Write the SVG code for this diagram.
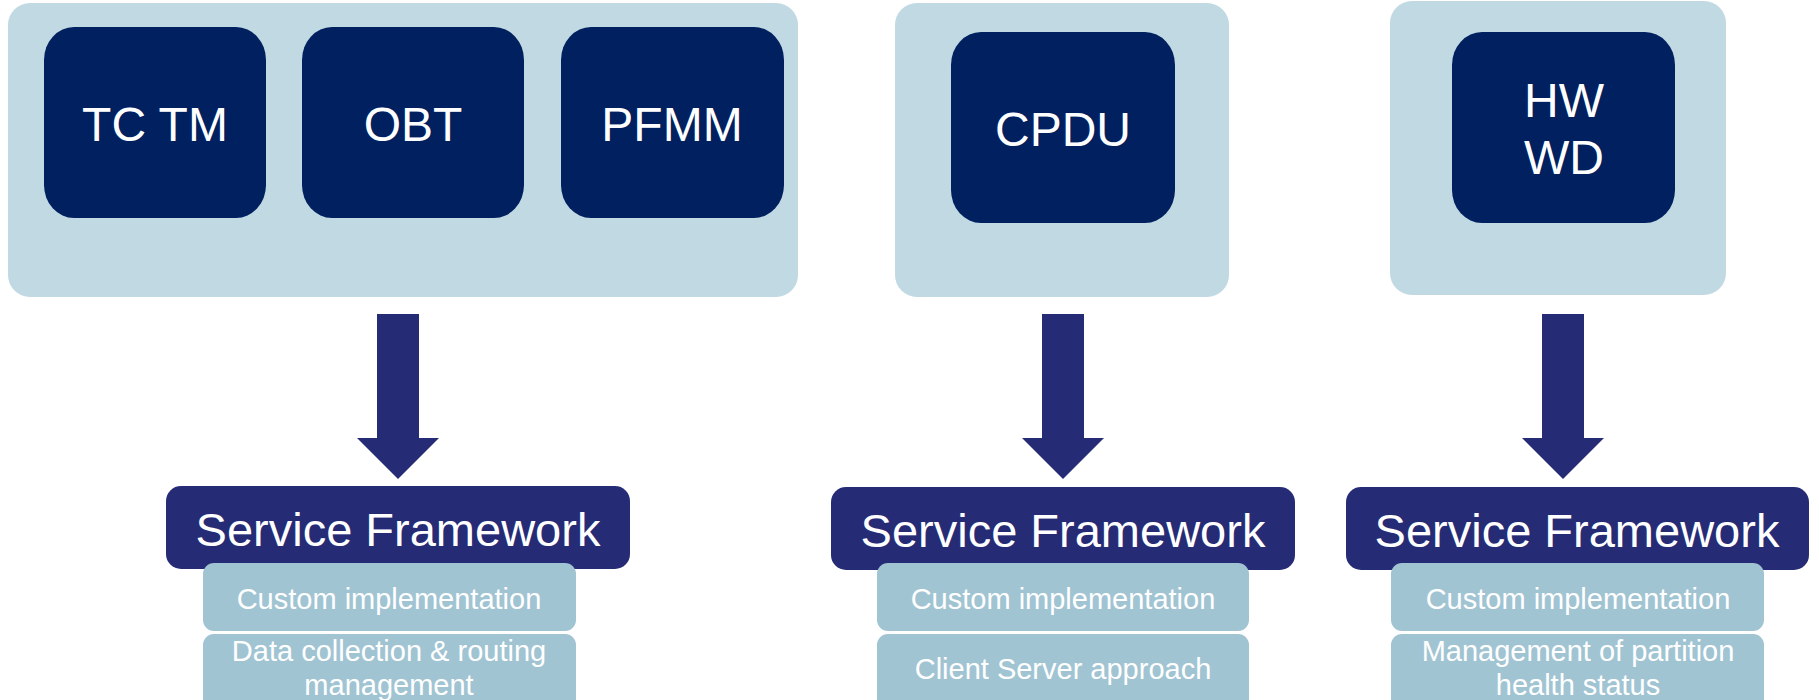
<svg xmlns="http://www.w3.org/2000/svg" width="1819" height="700" viewBox="0 0 1819 700">
  <style>
    .panel { fill: #C0D9E2; }
    .module { fill: #002060; }
    .sf { fill: #262B76; }
    .sub { fill: #A1C4D3; }
    .arrow { fill: #262B76; }
    text { font-family: "Liberation Sans", Arial, sans-serif; fill: #FFFFFF; text-anchor: middle; }
    .mod-label { font-size: 48px; }
    .sf-label { font-size: 47px; }
    .sub-label { font-size: 29px; }
  </style>

  <!-- Partition containers -->
  <g id="partition-1">
    <rect class="panel" x="8" y="3" width="790" height="294" rx="22" ry="22"/>
  </g>
  <g id="partition-2">
    <rect class="panel" x="895" y="3" width="334" height="294" rx="22" ry="22"/>
  </g>
  <g id="partition-3">
    <rect class="panel" x="1390" y="1" width="336" height="294" rx="22" ry="22"/>
  </g>

  <!-- Application modules -->
  <g id="tctm">
    <rect class="module" x="44" y="27" width="222" height="191" rx="30" ry="33"/>
    <text class="mod-label" x="155" y="141">TC TM</text>
  </g>
  <g id="obt">
    <rect class="module" x="302" y="27" width="222" height="191" rx="30" ry="33"/>
    <text class="mod-label" x="413" y="141">OBT</text>
  </g>
  <g id="pfmm">
    <rect class="module" x="561" y="27" width="223" height="191" rx="30" ry="33"/>
    <text class="mod-label" x="672" y="141">PFMM</text>
  </g>
  <g id="cpdu">
    <rect class="module" x="951" y="32" width="224" height="191" rx="30" ry="33"/>
    <text class="mod-label" x="1063" y="146">CPDU</text>
  </g>
  <g id="hwwd">
    <rect class="module" x="1452" y="32" width="223" height="191" rx="30" ry="33"/>
    <text class="mod-label" x="1564" y="117">HW</text>
    <text class="mod-label" x="1564" y="174">WD</text>
  </g>

  <!-- Block arrows -->
  <g id="connectors">
    <polygon class="arrow" points="377,314 419,314 419,438 439,438 398,479 357,438 377,438"/>
    <polygon class="arrow" points="1042,314 1084,314 1084,438 1104,438 1063,479 1022,438 1042,438"/>
    <polygon class="arrow" points="1542,314 1584,314 1584,438 1604,438 1563,479 1522,438 1542,438"/>
  </g>

  <!-- Service Framework stacks -->
  <g id="sf-1">
    <rect class="sub" x="203" y="634" width="373" height="80" rx="11" ry="11"/>
    <text class="sub-label" x="389" y="661">Data collection &amp; routing</text>
    <text class="sub-label" x="389" y="695">management</text>
    <rect class="sf" x="166" y="486" width="464" height="83" rx="15" ry="15"/>
    <text class="sf-label" x="398" y="546">Service Framework</text>
    <rect class="sub" x="203" y="563" width="373" height="68" rx="11" ry="11"/>
    <text class="sub-label" x="389" y="609">Custom implementation</text>
  </g>
  <g id="sf-2">
    <rect class="sub" x="877" y="634" width="372" height="80" rx="11" ry="11"/>
    <text class="sub-label" x="1063" y="679">Client Server approach</text>
    <rect class="sf" x="831" y="487" width="464" height="83" rx="15" ry="15"/>
    <text class="sf-label" x="1063" y="547">Service Framework</text>
    <rect class="sub" x="877" y="563" width="372" height="68" rx="11" ry="11"/>
    <text class="sub-label" x="1063" y="609">Custom implementation</text>
  </g>
  <g id="sf-3">
    <rect class="sub" x="1391" y="634" width="373" height="80" rx="11" ry="11"/>
    <text class="sub-label" x="1578" y="661">Management of partition</text>
    <text class="sub-label" x="1578" y="695">health status</text>
    <rect class="sf" x="1346" y="487" width="463" height="83" rx="15" ry="15"/>
    <text class="sf-label" x="1577" y="547">Service Framework</text>
    <rect class="sub" x="1391" y="563" width="373" height="68" rx="11" ry="11"/>
    <text class="sub-label" x="1578" y="609">Custom implementation</text>
  </g>
</svg>
